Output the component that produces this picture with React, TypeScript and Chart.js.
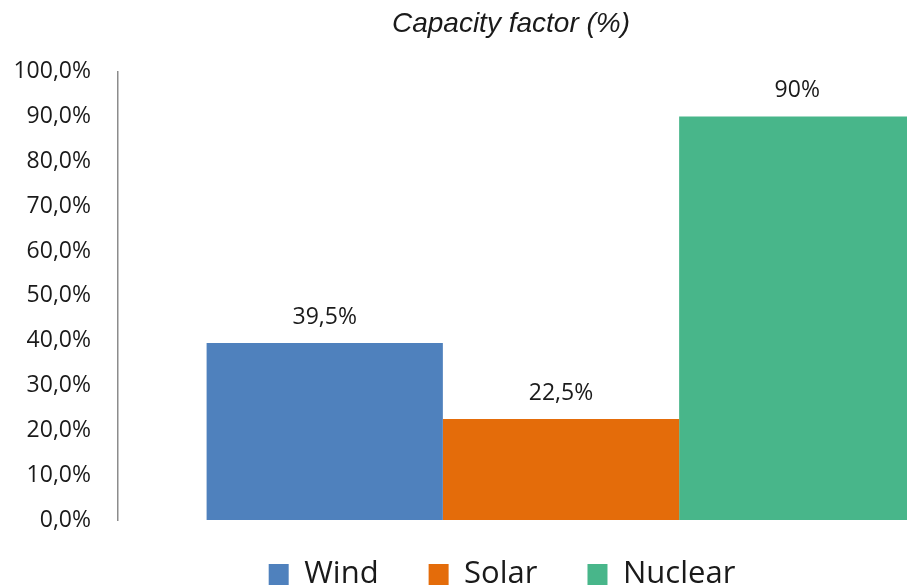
import { useEffect, useRef } from "react";
import { Chart, registerables } from "chart.js";

Chart.register(...registerables);

// Capacity factor by generation source, in percent
const sources = ["Wind", "Solar", "Nuclear"];
const capacityFactors = [39.5, 22.5, 90];
const sourceColors = ["#4F81BD", "#E46C0A", "#48B68A"];
const axisMin = 0;
const axisMax = 100;
const axisStep = 10;
const chartTitle = "Capacity factor (%)";

const textColor = "#1a1a1a";
const bodyFont = "'Open Sans', 'Noto Sans', sans-serif";

// How far the legend row is pulled up towards the plot
const legendPull = 11;
// Horizontal shift of the title's centre, in pixels
const titleShift = 9;

const formatTick = (v: number) => v.toFixed(1).replace(".", ",") + "%";
const formatValue = (v: number) =>
  (Number.isInteger(v) ? String(v) : v.toFixed(1).replace(".", ",")) + "%";

// Writes each bar's value just above its top
const valueLabels = {
  id: "valueLabels",
  afterDatasetsDraw(chart: any) {
    const ctx = chart.ctx;
    ctx.save();
    ctx.font = `23px ${bodyFont}`;
    ctx.fillStyle = textColor;
    ctx.textAlign = "center";
    ctx.textBaseline = "alphabetic";
    chart.data.datasets.forEach((ds: any, i: number) => {
      chart.getDatasetMeta(i).data.forEach((bar: any, j: number) => {
        ctx.fillText(formatValue(ds.data[j]), bar.x, bar.y - 19);
      });
    });
    ctx.restore();
  },
};

// Keeps the wide horizontal item spacing of the legend while
// tightening the vertical gap between the plot and the legend row,
// and nudges the title sideways
const layoutTweaks = {
  id: "layoutTweaks",
  beforeInit(chart: any) {
    const legend = chart.legend;
    if (!legend) return;
    const baseFit = legend.fit;
    legend.fit = function fit(this: any) {
      baseFit.call(this);
      this.height -= legendPull;
    };
  },
  afterLayout(chart: any) {
    const legend = chart.legend;
    if (legend) {
      legend.top -= legendPull;
      legend.bottom -= legendPull;
    }
    const title = chart.titleBlock;
    if (title) {
      title.left += titleShift * 2;
    }
  },
};

export default function App() {
  const canvasRef = useRef<HTMLCanvasElement | null>(null);

  useEffect(() => {
    if (!canvasRef.current) return;
    const chart = new Chart(canvasRef.current, {
      type: "bar",
      data: {
        labels: [""],
        datasets: sources.map((name, i) => ({
          label: name,
          data: [capacityFactors[i]],
          backgroundColor: sourceColors[i],
          borderWidth: 0,
          barPercentage: 1,
          categoryPercentage: 0.8,
        })),
      },
      options: {
        responsive: false,
        animation: false,
        devicePixelRatio: 1,
        layout: { padding: { left: 0, right: 6, top: 0, bottom: 0 } },
        plugins: {
          title: {
            display: true,
            text: chartTitle,
            color: textColor,
            font: { family: "'Liberation Sans', Arial, sans-serif", size: 28, style: "italic", weight: "normal" },
            padding: { top: 7, bottom: 31 },
          },
          legend: {
            position: "bottom",
            labels: {
              color: textColor,
              font: { family: bodyFont, size: 31 },
              boxWidth: 20,
              boxHeight: 21,
              padding: 50,
            },
          },
          tooltip: { enabled: false },
        },
        scales: {
          x: { display: false },
          y: {
            min: axisMin,
            max: axisMax,
            ticks: {
              stepSize: axisStep,
              color: textColor,
              font: { family: bodyFont, size: 23 },
              padding: 27,
              callback: (v: any) => formatTick(Number(v)),
            },
            grid: { display: false, drawTicks: false },
            border: { display: true, color: "#8c8c8c", width: 1.5 },
            afterFit: (scale: any) => {
              scale.width = 118;
            },
          },
        },
      },
      plugins: [valueLabels, layoutTweaks],
    });
    return () => chart.destroy();
  }, []);

  return (
    <div style={{ position: "absolute", left: 0, top: 0, width: 907, height: 588, overflow: "hidden", background: "#fff" }}>
      <canvas ref={canvasRef} width={1010} height={600} style={{ display: "block" }} />
    </div>
  );
}
